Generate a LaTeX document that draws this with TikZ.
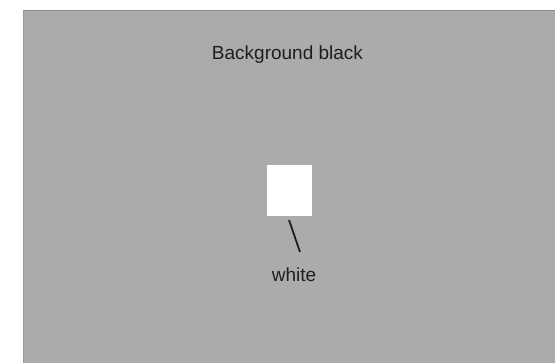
\documentclass[tikz,border=0pt]{standalone}
\usepackage{fontspec}
\setmainfont{Liberation Sans}
\usepackage{tikz}
\usetikzlibrary{positioning}
\usepackage{xcolor}
\definecolor{bggray}{HTML}{ABABAB}
\definecolor{edgegray}{HTML}{8E8E8E}
\definecolor{inkgray}{HTML}{1E1E1E}

\begin{document}
\begin{tikzpicture}[x=1pt,y=-1pt,
  caption/.style={text=inkgray,font=\fontsize{19}{21}\selectfont,inner sep=0pt,anchor=base}]
\useasboundingbox (0,0) rectangle (555,363);
\fill[white] (0,0) rectangle (555,363);
\fill[bggray] (23,10) rectangle (555,363);
\draw[edgegray,line width=1.5pt] (23,10.5) -- (555,10.5);
\draw[edgegray!60!bggray,line width=1pt] (23.5,10) -- (23.5,363);
\node[caption] (title) at (287.5,60) {Background black};
\node[fill=white,minimum width=45pt,minimum height=51pt,inner sep=0pt] (box) at (289.5,190.5) {};
\node[caption] (lbl) at (294,282) {white};
\coordinate (tickA) at (289,220);
\coordinate (tickB) at (300,252);
\draw[inkgray,line width=1.8pt] (tickA) -- (tickB);
\end{tikzpicture}
\end{document}
